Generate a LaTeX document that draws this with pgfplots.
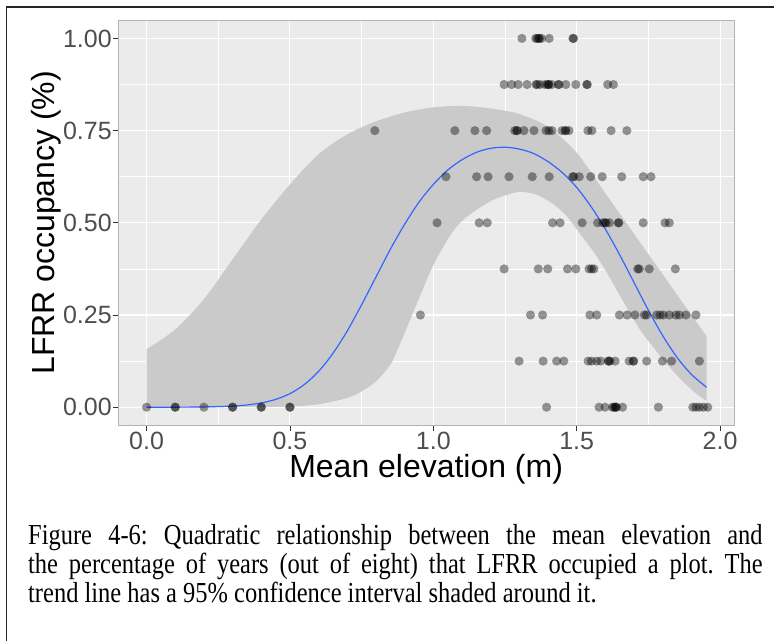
\documentclass[border=0pt]{standalone}
\usepackage{fontspec}
\setmainfont{Liberation Sans}
\newfontfamily\capfont{Liberation Serif}
\usepackage{graphicx}
\usepackage{pgfplots}
\pgfplotsset{compat=1.18}
\usepgfplotslibrary{fillbetween}
\definecolor{panelbg}{HTML}{EBEBEB}
\definecolor{ribbon}{HTML}{CACACA}
\definecolor{trend}{HTML}{3366FF}
\definecolor{ticktext}{HTML}{4D4D4D}
\definecolor{tickmark}{HTML}{333333}
% condensed caption line of a given width
\newcommand{\capline}[2]{\scalebox{0.845}[1]{\hbox to #1{#2}}}

\begin{document}
\begin{tikzpicture}[x=1pt,y=1pt]
\path (0,0) rectangle (775,642);
% figure frame (top and left edges)
\draw[black!85, line width=1.3pt] (775,635) -- (6.5,635) -- (6.5,0);

\begin{axis}[
  at={(118pt,216pt)}, anchor=south west,
  scale only axis, width=617pt, height=406pt,
  xmin=-0.1, xmax=2.05, ymin=-0.05, ymax=1.05,
  axis background/.style={fill=panelbg},
  axis line style={draw=black!30, line width=0.8pt},
  xtick={0,0.5,1,1.5,2}, xticklabels={0.0,0.5,1.0,1.5,2.0},
  ytick={0,0.25,0.5,0.75,1}, yticklabels={0.00,0.25,0.50,0.75,1.00},
  minor xtick={0.25,0.75,1.25,1.75},
  minor ytick={0.125,0.375,0.625,0.875},
  grid=both,
  major grid style={white, line width=1.1pt},
  minor grid style={white, line width=0.5pt},
  tick align=outside, xtick pos=bottom, ytick pos=left,
  major tick length=5pt, minor tick length=0pt,
  tick style={draw=tickmark, line width=0.8pt},
  /pgf/number format/assume math mode=true,
  ticklabel style={font=\fontsize{25}{25}\selectfont, text=ticktext},
  xticklabel style={anchor=north, inner sep=0pt, yshift=-1pt},
  yticklabel style={anchor=east, inner sep=0pt, xshift=-1pt},
  xlabel={Mean elevation (m)},
  xlabel style={at={(axis description cs:0.5,-0.128)}, anchor=base,
    inner sep=0pt, font=\fontsize{32}{32}\selectfont, text=black},
  ylabel={LFRR occupancy (\%)},
  ylabel style={at={(axis description cs:-0.1021,0.5)}, anchor=base,
    inner sep=0pt, font=\fontsize{32}{32}\selectfont, text=black},
  clip=true,
]

% 95% confidence band of the fitted trend
\addplot[name path=upper, draw=none, smooth] coordinates {
  (0,0.157) (0.1,0.211) (0.2,0.293) (0.3,0.401) (0.4,0.509) (0.5,0.604)
  (0.6,0.686) (0.7,0.740) (0.8,0.775) (0.9,0.799) (1.0,0.813) (1.1,0.817)
  (1.2,0.810) (1.3,0.795) (1.4,0.760) (1.5,0.690) (1.6,0.580) (1.7,0.470)
  (1.8,0.360) (1.9,0.250) (1.953,0.193)};
\addplot[name path=lower, draw=none, smooth] coordinates {
  (0,0) (0.4,0.0005) (0.5,0.002) (0.6,0.008) (0.7,0.025) (0.75,0.043)
  (0.8,0.07) (0.85,0.115) (0.883,0.17) (0.918,0.235) (0.95,0.295)
  (1.0,0.385) (1.058,0.465) (1.1,0.505) (1.16,0.54) (1.22,0.566)
  (1.29,0.583) (1.33,0.582) (1.37,0.573) (1.42,0.55) (1.465,0.518)
  (1.51,0.472) (1.56,0.42) (1.605,0.365) (1.66,0.29) (1.72,0.211)
  (1.76,0.17) (1.81,0.121) (1.87,0.07) (1.92,0.035) (1.953,0.017)};
\addplot[fill=ribbon, draw=none] fill between[of=upper and lower];

% observed plots: proportion of the eight years occupied
\pgfplotsset{occ/.style={only marks, mark=*, mark size=4.6pt,
  mark options={draw opacity=0, fill=black, fill opacity=0.4}}}
\addplot[occ] coordinates {
  (1.309,1) (1.357,1) (1.362,1) (1.368,1) (1.370,1) (1.377,1) (1.404,1)
  (1.487,1) (1.489,1)};
\addplot[occ] coordinates {
  (1.247,0.875) (1.273,0.875) (1.296,0.875) (1.327,0.875) (1.358,0.875)
  (1.362,0.875) (1.372,0.875) (1.389,0.875) (1.399,0.875) (1.401,0.875)
  (1.403,0.875) (1.413,0.875) (1.436,0.875) (1.438,0.875) (1.462,0.875)
  (1.497,0.875) (1.535,0.875) (1.537,0.875) (1.608,0.875) (1.628,0.875)};
\addplot[occ] coordinates {
  (0.796,0.75) (1.075,0.75) (1.145,0.75) (1.186,0.75) (1.284,0.75)
  (1.291,0.75) (1.293,0.75) (1.316,0.75) (1.351,0.75) (1.393,0.75)
  (1.403,0.75) (1.414,0.75) (1.449,0.75) (1.460,0.75) (1.462,0.75)
  (1.473,0.75) (1.539,0.75) (1.553,0.75) (1.620,0.75) (1.675,0.75)};
\addplot[occ] coordinates {
  (1.044,0.625) (1.151,0.625) (1.191,0.625) (1.264,0.625) (1.345,0.625)
  (1.404,0.625) (1.486,0.625) (1.490,0.625) (1.509,0.625) (1.549,0.625)
  (1.589,0.625) (1.657,0.625) (1.732,0.625) (1.759,0.625)};
\addplot[occ] coordinates {
  (1.013,0.5) (1.160,0.5) (1.188,0.5) (1.416,0.5) (1.442,0.5) (1.519,0.5)
  (1.573,0.5) (1.591,0.5) (1.599,0.5) (1.602,0.5) (1.614,0.5) (1.645,0.5)
  (1.647,0.5) (1.732,0.5) (1.808,0.5) (1.823,0.5)};
\addplot[occ] coordinates {
  (1.247,0.375) (1.366,0.375) (1.399,0.375) (1.468,0.375) (1.497,0.375)
  (1.543,0.375) (1.552,0.375) (1.560,0.375) (1.713,0.375) (1.718,0.375)
  (1.753,0.375) (1.844,0.375)};
\addplot[occ] coordinates {
  (0.955,0.25) (1.339,0.25) (1.381,0.25) (1.546,0.25) (1.570,0.25)
  (1.649,0.25) (1.676,0.25) (1.703,0.25) (1.736,0.25) (1.744,0.25)
  (1.779,0.25) (1.791,0.25) (1.802,0.25) (1.823,0.25) (1.846,0.25)
  (1.858,0.25) (1.881,0.25) (1.916,0.25)};
\addplot[occ] coordinates {
  (1.299,0.125) (1.383,0.125) (1.430,0.125) (1.455,0.125) (1.540,0.125)
  (1.552,0.125) (1.570,0.125) (1.584,0.125) (1.610,0.125) (1.612,0.125)
  (1.616,0.125) (1.634,0.125) (1.683,0.125) (1.697,0.125) (1.699,0.125)
  (1.744,0.125) (1.799,0.125) (1.831,0.125) (1.928,0.125)};
\addplot[occ] coordinates {
  (0.0,0) (0.1,0) (0.1,0) (0.2,0) (0.3,0) (0.3,0) (0.4,0) (0.4,0)
  (0.5,0) (0.5,0) (1.395,0) (1.578,0) (1.599,0) (1.625,0) (1.630,0)
  (1.634,0) (1.637,0) (1.639,0) (1.660,0) (1.785,0) (1.905,0) (1.916,0)
  (1.928,0) (1.942,0) (1.957,0)};

% fitted quadratic (logit) trend
\addplot[trend, line width=1.2pt, smooth] coordinates {
  (0,0.0000) (0.1,0.0001) (0.2,0.0007) (0.3,0.0031) (0.35,0.0061)
  (0.4,0.0116) (0.45,0.0211) (0.5,0.0368) (0.55,0.0613) (0.6,0.0972)
  (0.65,0.146) (0.7,0.207) (0.75,0.278) (0.8,0.353) (0.85,0.428)
  (0.9,0.496) (0.95,0.556) (1.0,0.604) (1.05,0.643) (1.1,0.671)
  (1.15,0.691) (1.2,0.702) (1.25,0.705) (1.3,0.700) (1.35,0.688)
  (1.4,0.666) (1.45,0.636) (1.5,0.596) (1.55,0.544) (1.6,0.483)
  (1.65,0.413) (1.7,0.338) (1.75,0.263) (1.8,0.194) (1.85,0.135)
  (1.9,0.089) (1.953,0.054)};
\end{axis}

% caption
\begin{scope}[every node/.style={anchor=base west, inner sep=0pt,
    font=\capfont\frenchspacing\fontsize{29}{34}\selectfont}]
\node at (28,97.5) {\capline{869.8pt}{Figure 4-6: Quadratic relationship between the mean elevation and}};
\node at (28,68) {\capline{869.8pt}{the percentage of years (out of eight) that LFRR occupied a plot. The}};
\node at (28,38.5) {\scalebox{0.845}[1]{trend line has a 95\% confidence interval shaded around it.}};
\end{scope}
\end{tikzpicture}
\end{document}
